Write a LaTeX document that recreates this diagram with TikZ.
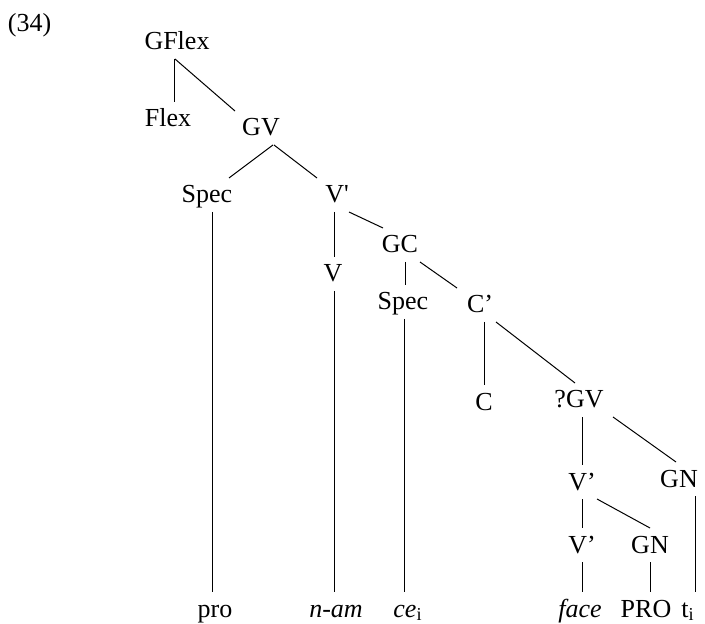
\documentclass[tikz,border=0pt]{standalone}
\usepackage{fontspec}
\setmainfont{Liberation Serif}

\begin{document}
\begin{tikzpicture}[x=0.5pt, y=-0.5pt,
    cat/.style={font=\fontsize{13}{15}\selectfont, inner sep=0pt, outer xsep=0pt,
        outer ysep=4.5pt, text height=8pt, text depth=0pt, anchor=base},
    branch/.style={line width=0.5pt}]
    \useasboundingbox (0,0) rectangle (705,624);

    % Example number
    \node[cat, anchor=base west] (ex) at (8,32) {(34)};

    % Categories
    \node[cat] (gflex) at (177,50) {GFlex};
    \node[cat] (flex) at (168,127) {Flex};
    \node[cat] (gv) at (261,136) {GV};
    \node[cat] (spec1) at (207,203) {Spec};
    \node[cat] (vbar1) at (337,203) {V\textquotesingle};
    \node[cat] (v) at (333,282) {V};
    \node[cat] (gc) at (400,253) {GC};
    \node[cat] (spec2) at (403,310) {Spec};
    \node[cat] (cbar) at (480,313) {C’};
    \node[cat] (c) at (484,410) {C};
    \node[cat] (qgv) at (579,408) {?GV};
    \node[cat] (vbar2) at (582,490) {V’};
    \node[cat] (gn1) at (679,487) {GN};
    \node[cat] (vbar3) at (582,553) {V’};
    \node[cat] (gn2) at (650,553) {GN};

    % Words
    \node[cat] (pro) at (215,617) {pro};
    \node[cat] (nam) at (336,617) {\textit{n-am}};
    \node[cat] (cei) at (408,617) {\textit{ce}\textsubscript{i}};
    \node[cat] (face) at (580,617) {\textit{face}};
    \node[cat] (PROn) at (646,617) {PRO};
    \node[cat] (ti) at (688,617) {t\textsubscript{i}};

    % Branches
    \draw[branch] ([xshift=-1.5pt]gflex.south) -- ([xshift=3pt]flex.north);
    \draw[branch] ([xshift=-1pt]gflex.south) -- ([xshift=-13pt]gv.north);
    \draw[branch] ([xshift=6pt]gv.south) -- ([xshift=11pt]spec1.north);
    \draw[branch] ([xshift=6.5pt]gv.south) -- ([xshift=-10pt]vbar1.north);
    \draw[branch] ([xshift=-1.5pt]vbar1.south) -- ([xshift=0.5pt]v.north);
    \draw[branch] ([xshift=6pt]vbar1.south) -- ([xshift=-8.5pt]gc.north);
    \draw[branch] ([xshift=2.5pt]gc.south) -- ([xshift=1pt]spec2.north);
    \draw[branch] ([xshift=10pt]gc.south) -- ([xshift=-11.5pt]cbar.north);
    \draw[branch] ([xshift=2pt]cbar.south) -- (c.north);
    \draw[branch] ([xshift=8pt]cbar.south) -- ([xshift=-2pt]qgv.north);
    \draw[branch] ([xshift=1.5pt]qgv.south) -- (vbar2.north);
    \draw[branch] ([xshift=17pt]qgv.south) -- ([xshift=-1.5pt]gn1.north);
    \draw[branch] (vbar2.south) -- (vbar3.north);
    \draw[branch] ([xshift=7.5pt]vbar2.south) -- (gn2.north);

    % Lines down to the words
    \draw[branch] ([xshift=2.5pt]spec1.south) -- ([xshift=-1.5pt]pro.north);
    \draw[branch] ([xshift=0.5pt]v.south) -- ([xshift=-1pt]nam.north);
    \draw[branch] ([xshift=0.5pt]spec2.south) -- ([xshift=-2pt]cei.north);
    \draw[branch] (vbar3.south) -- ([xshift=1pt]face.north);
    \draw[branch] (gn2.south) -- ([xshift=2pt]PROn.north);
    \draw[branch] ([xshift=8pt]gn1.south) -- ([xshift=3.5pt]ti.north);
\end{tikzpicture}
\end{document}
